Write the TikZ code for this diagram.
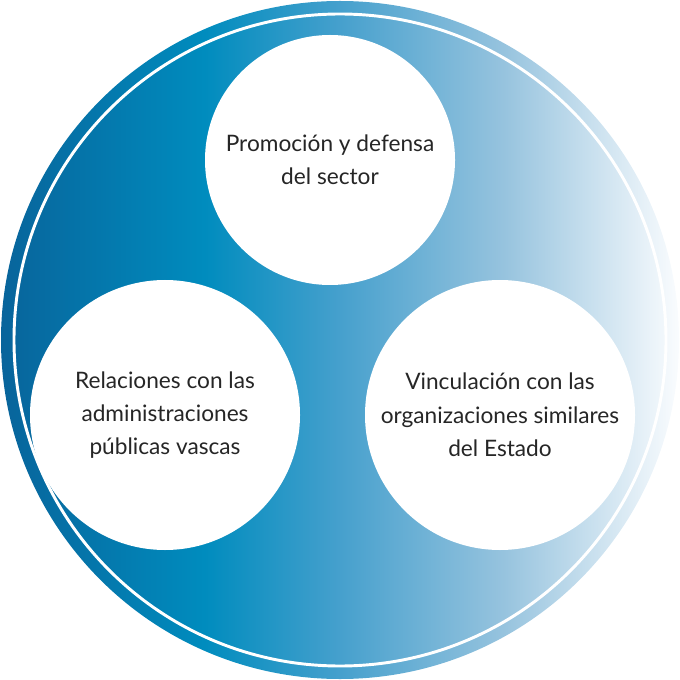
\documentclass[tikz,border=0pt]{standalone}
\usepackage{fontspec}
\setmainfont{Lato}
\pgfdeclarehorizontalshading{ringshade}{100bp}{
 color(0bp)=(rgb,255:red,8;green,100;blue,155);
 color(25bp)=(rgb,255:red,8;green,100;blue,155);
 color(40bp)=(rgb,255:red,0;green,140;blue,190);
 color(50bp)=(rgb,255:red,70;green,160;blue,205);
 color(62bp)=(rgb,255:red,150;green,195;blue,222);
 color(75bp)=(rgb,255:red,250;green,252;blue,254);
 color(100bp)=(rgb,255:red,250;green,252;blue,254)}
\tikzset{bub/.style={circle,fill=white,align=center,font=\fontsize{17}{25}\selectfont,text=black!85}}
\begin{document}
\begin{tikzpicture}[x=0.75pt,y=-0.75pt]
\useasboundingbox (0,0) rectangle (680,680);
\shade[shading=ringshade] (340,340) circle (339);
\draw[white,line width=2.2pt] (340,340) circle (326);
\node[bub,minimum size=250*0.75pt] (top) at (330,160) {Promoción y defensa\\del sector};
\node[bub,minimum size=270*0.75pt] (left) at (165,415) {Relaciones con las\\administraciones\\públicas vascas};
\node[bub,minimum size=270*0.75pt] (right) at (500,415) {Vinculación con las\\organizaciones similares\\del Estado};
\end{tikzpicture}
\end{document}
